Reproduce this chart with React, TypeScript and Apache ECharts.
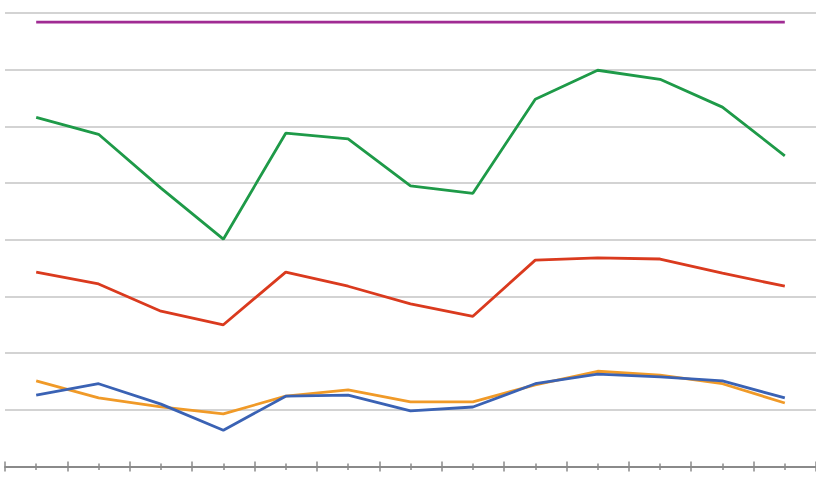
import React, { useEffect, useRef } from "react";
import * as echarts from "echarts";

const categories = ["1", "2", "3", "4", "5", "6", "7", "8", "9", "10", "11", "12", "13"];
const purpleValues = [78.4, 78.4, 78.4, 78.4, 78.4, 78.4, 78.4, 78.4, 78.4, 78.4, 78.4, 78.4, 78.4];
const greenValues = [61.6, 58.6, 49.1, 40.1, 58.8, 57.8, 49.5, 48.2, 64.8, 69.9, 68.3, 63.4, 54.8];
const redValues = [34.3, 32.2, 27.4, 25.0, 34.3, 31.8, 28.7, 26.5, 36.4, 36.8, 36.6, 34.1, 31.8];
const orangeValues = [15.1, 12.1, 10.5, 9.3, 12.4, 13.5, 11.4, 11.4, 14.4, 16.8, 16.1, 14.6, 11.2];
const blueValues = [12.6, 14.6, 11.0, 6.4, 12.4, 12.6, 9.8, 10.5, 14.6, 16.3, 15.8, 15.1, 12.1];

export default function App() {
  const ref = useRef<HTMLDivElement>(null);
  useEffect(() => {
    if (!ref.current) return;
    const chart = echarts.init(ref.current, null, { renderer: "svg" });
    const tickColor = "#8a8a8a";
    const mkAxis = (len: number, inside: boolean, align: boolean, showLine: boolean) => ({
      type: "category",
      data: categories,
      position: "bottom",
      boundaryGap: true,
      axisLine: { show: showLine, lineStyle: { color: tickColor, width: 2 } },
      axisTick: { show: true, length: len, inside, alignWithLabel: align, lineStyle: { color: tickColor, width: 1.5 } },
      axisLabel: { show: false },
      splitLine: { show: false },
    });
    const line = (name: string, data: number[], color: string) => ({
      name,
      type: "line",
      data,
      xAxisIndex: 0,
      symbol: "none",
      lineStyle: { color, width: 2.8 },
      itemStyle: { color },
    });
    chart.setOption({
      animation: false,
      backgroundColor: "#ffffff",
      grid: { left: 5, top: 13, width: 813, height: 453.5, containLabel: false },
      xAxis: [
        mkAxis(5, false, false, true),
        mkAxis(5, true, false, false),
        mkAxis(3.5, false, true, false),
        mkAxis(3, true, true, false),
      ],
      yAxis: {
        type: "value",
        min: 0,
        max: 80,
        interval: 10,
        axisLine: { show: false },
        axisTick: { show: false },
        axisLabel: { show: false },
        splitLine: { show: true, lineStyle: { color: "#c4c4c4", width: 1.5 } },
      },
      series: [
        line("Purple", purpleValues, "#A02B93"),
        line("Green", greenValues, "#1E9A48"),
        line("Red", redValues, "#DA3A1E"),
        line("Orange", orangeValues, "#F09A28"),
        line("Blue", blueValues, "#3A62B4"),
      ],
    });
    return () => chart.dispose();
  }, []);
  return <div ref={ref} style={{ width: 816, height: 477, position: "fixed", left: 0, top: 0 }} />;
}
